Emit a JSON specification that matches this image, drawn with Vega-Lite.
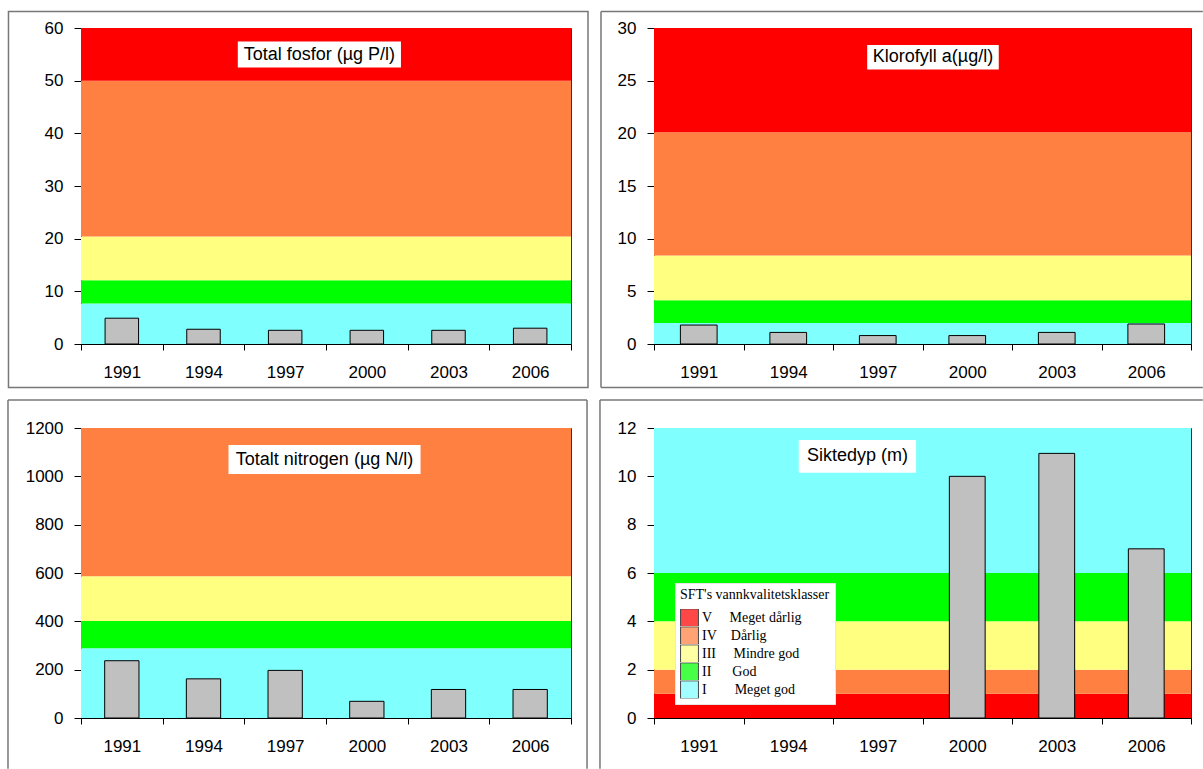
{
  "$schema": "https://vega.github.io/schema/vega-lite/v6.json",
  "padding": {"left": 6, "top": 10, "right": 0, "bottom": 0},
  "background": "white",
  "columns": 2,
  "bounds": "flush",
  "spacing": {"row": 84, "column": 83},
  "config": {
    "view": {"stroke": "#333", "strokeWidth": 1},
    "font": "Liberation Sans",
    "axis": {"title": null, "grid": false, "domainColor": "#000", "tickColor": "#000", "labelColor": "#000", "labelFont": "Liberation Sans", "labelFontSize": 17},
    "axisX": {"labelAngle": 0, "tickBand": "extent", "tickSize": 6, "labelPadding": 14},
    "axisY": {"tickSize": 7, "labelPadding": 11, "format": "d"}
  },
  "concat": [
    {
      "width": 490, "height": 316,
      "resolve": {"scale": {"x": "independent", "y": "independent"}},
      "layer": [
        {
          "layer": [
            {
              "data": {"values": [
                {"cls": "I", "lo": 0, "hi": 7.7},
                {"cls": "II", "lo": 7.7, "hi": 12.1},
                {"cls": "III", "lo": 12.1, "hi": 20.4},
                {"cls": "IV", "lo": 20.4, "hi": 50},
                {"cls": "V", "lo": 50, "hi": 60}
              ]},
              "mark": "rect",
              "encoding": {
                "y": {"field": "lo", "type": "quantitative", "scale": {"domain": [0, 60], "nice": false}, "axis": {"values": [0, 10, 20, 30, 40, 50, 60]}},
                "y2": {"field": "hi"},
                "color": {"field": "cls", "type": "nominal",
                  "scale": {"domain": ["V", "IV", "III", "II", "I"], "range": ["#FF0000", "#FF8040", "#FFFF80", "#00FF00", "#80FFFF"]},
                  "legend": {
                    "orient": "none", "legendX": 594, "legendY": 555,
                    "title": "SFT's vannkvalitetsklasser",
                    "titleFont": "Liberation Serif", "titleFontSize": 14, "titleFontWeight": "normal", "titleColor": "#000", "titlePadding": 7,
                    "labelFont": "Liberation Serif", "labelFontSize": 14, "labelColor": "#000", "labelOffset": 3,
                    "symbolType": "square", "symbolSize": 320, "symbolStrokeColor": "#000", "symbolStrokeWidth": 1, "symbolOpacity": 0.72,
                    "clipHeight": 17.6, "rowPadding": 0, "padding": 5, "fillColor": "white", "strokeColor": "#e6e6e6",
                    "labelExpr": "datum.label == 'V' ? '\u00a0\u00a0V\u00a0\u00a0\u00a0\u00a0\u00a0Meget dårlig' : datum.label == 'IV' ? 'IV\u00a0\u00a0\u00a0\u00a0Dårlig' : datum.label == 'III' ? 'III\u00a0\u00a0\u00a0\u00a0\u00a0Mindre god' : datum.label == 'II' ? 'II\u00a0\u00a0\u00a0\u00a0\u00a0\u00a0God' : 'I\u00a0\u00a0\u00a0\u00a0\u00a0\u00a0\u00a0\u00a0Meget god'"
                  }
                }
              }
            },
            {
              "data": {"values": [
                {"year": "1991", "v": 4.9},
                {"year": "1994", "v": 2.8},
                {"year": "1997", "v": 2.6},
                {"year": "2000", "v": 2.6},
                {"year": "2003", "v": 2.6},
                {"year": "2006", "v": 3.0}
              ]},
              "mark": {"type": "bar", "width": {"band": 0.41}, "fill": "#C0C0C0", "stroke": "#000", "strokeWidth": 1},
              "encoding": {
                "x": {"field": "year", "type": "nominal", "scale": {"domain": ["1991", "1994", "1997", "2000", "2003", "2006"], "paddingInner": 0, "paddingOuter": 0}},
                "y": {"field": "v", "type": "quantitative"}
              }
            }
          ]
        },
        {
          "data": {"values": [{}]},
          "layer": [
            {
              "mark": {"type": "rect", "fill": "white"},
              "encoding": {
                "x": {"datum": 0.32, "type": "quantitative", "scale": {"domain": [0, 1], "nice": false, "zero": false}, "axis": null},
                "x2": {"datum": 0.653},
                "y": {"datum": 0.957, "type": "quantitative", "scale": {"domain": [0, 1], "nice": false, "zero": false}, "axis": null},
                "y2": {"datum": 0.875}
              }
            },
            {
              "mark": {"type": "text", "text": "Total fosfor (µg P/l)", "fontSize": 18, "font": "Liberation Sans", "color": "#000", "align": "center", "baseline": "middle"},
              "encoding": {"x": {"datum": 0.4865, "type": "quantitative"}, "y": {"datum": 0.916, "type": "quantitative"}}
            },
            {
              "mark": {"type": "rect", "fillOpacity": 0, "stroke": "#777", "strokeWidth": 1.5},
              "encoding": {
                "x": {"datum": -0.148, "type": "quantitative"}, "x2": {"datum": 1.0347},
                "y": {"datum": 1.052, "type": "quantitative"}, "y2": {"datum": -0.1377}
              }
            }
          ]
        }
      ]
    },
    {
      "width": 537, "height": 316,
      "resolve": {"scale": {"x": "independent", "y": "independent"}},
      "layer": [
        {
          "layer": [
            {
              "data": {"values": [
                {"cls": "I", "lo": 0, "hi": 2.0},
                {"cls": "II", "lo": 2.0, "hi": 4.15},
                {"cls": "III", "lo": 4.15, "hi": 8.4},
                {"cls": "IV", "lo": 8.4, "hi": 20.1},
                {"cls": "V", "lo": 20.1, "hi": 30}
              ]},
              "mark": "rect",
              "encoding": {
                "y": {"field": "lo", "type": "quantitative", "scale": {"domain": [0, 30], "nice": false}, "axis": {"values": [0, 5, 10, 15, 20, 25, 30]}},
                "y2": {"field": "hi"},
                "color": {"field": "cls", "type": "nominal"}
              }
            },
            {
              "data": {"values": [
                {"year": "1991", "v": 1.8},
                {"year": "1994", "v": 1.1},
                {"year": "1997", "v": 0.8},
                {"year": "2000", "v": 0.8},
                {"year": "2003", "v": 1.1},
                {"year": "2006", "v": 1.9}
              ]},
              "mark": {"type": "bar", "width": {"band": 0.41}, "fill": "#C0C0C0", "stroke": "#000", "strokeWidth": 1},
              "encoding": {
                "x": {"field": "year", "type": "nominal", "scale": {"domain": ["1991", "1994", "1997", "2000", "2003", "2006"], "paddingInner": 0, "paddingOuter": 0}},
                "y": {"field": "v", "type": "quantitative"}
              }
            }
          ]
        },
        {
          "data": {"values": [{}]},
          "layer": [
            {
              "mark": {"type": "rect", "fill": "white"},
              "encoding": {
                "x": {"datum": 0.397, "type": "quantitative", "scale": {"domain": [0, 1], "nice": false, "zero": false}, "axis": null},
                "x2": {"datum": 0.642},
                "y": {"datum": 0.946, "type": "quantitative", "scale": {"domain": [0, 1], "nice": false, "zero": false}, "axis": null},
                "y2": {"datum": 0.869}
              }
            },
            {
              "mark": {"type": "text", "text": "Klorofyll a(µg/l)", "fontSize": 18, "font": "Liberation Sans", "color": "#000", "align": "center", "baseline": "middle"},
              "encoding": {"x": {"datum": 0.5195, "type": "quantitative"}, "y": {"datum": 0.907, "type": "quantitative"}}
            },
            {
              "mark": {"type": "rule", "stroke": "#777", "strokeWidth": 1.5},
              "encoding": {"x": {"datum": -0.0987, "type": "quantitative"}, "x2": {"datum": 1.022}, "y": {"datum": 1.052, "type": "quantitative"}}
            },
            {
              "mark": {"type": "rule", "stroke": "#777", "strokeWidth": 1.5},
              "encoding": {"x": {"datum": -0.0987, "type": "quantitative"}, "x2": {"datum": 1.022}, "y": {"datum": -0.1377, "type": "quantitative"}}
            },
            {
              "mark": {"type": "rule", "stroke": "#777", "strokeWidth": 1.5},
              "encoding": {"x": {"datum": -0.0987, "type": "quantitative"}, "y": {"datum": -0.1377, "type": "quantitative"}, "y2": {"datum": 1.052}}
            }
          ]
        }
      ]
    },
    {
      "width": 490, "height": 290,
      "resolve": {"scale": {"x": "independent", "y": "independent"}},
      "layer": [
        {
          "layer": [
            {
              "data": {"values": [
                {"cls": "I", "lo": 0, "hi": 289},
                {"cls": "II", "lo": 289, "hi": 401},
                {"cls": "III", "lo": 401, "hi": 587},
                {"cls": "IV", "lo": 587, "hi": 1200}
              ]},
              "mark": "rect",
              "encoding": {
                "y": {"field": "lo", "type": "quantitative", "scale": {"domain": [0, 1200], "nice": false}, "axis": {"values": [0, 200, 400, 600, 800, 1000, 1200]}},
                "y2": {"field": "hi"},
                "color": {"field": "cls", "type": "nominal"}
              }
            },
            {
              "data": {"values": [
                {"year": "1991", "v": 237},
                {"year": "1994", "v": 162},
                {"year": "1997", "v": 197},
                {"year": "2000", "v": 69},
                {"year": "2003", "v": 118},
                {"year": "2006", "v": 118}
              ]},
              "mark": {"type": "bar", "width": {"band": 0.42}, "fill": "#C0C0C0", "stroke": "#000", "strokeWidth": 1},
              "encoding": {
                "x": {"field": "year", "type": "nominal", "scale": {"domain": ["1991", "1994", "1997", "2000", "2003", "2006"], "paddingInner": 0, "paddingOuter": 0}},
                "y": {"field": "v", "type": "quantitative"}
              }
            }
          ]
        },
        {
          "data": {"values": [{}]},
          "layer": [
            {
              "mark": {"type": "rect", "fill": "white"},
              "encoding": {
                "x": {"datum": 0.301, "type": "quantitative", "scale": {"domain": [0, 1], "nice": false, "zero": false}, "axis": null},
                "x2": {"datum": 0.693},
                "y": {"datum": 0.941, "type": "quantitative", "scale": {"domain": [0, 1], "nice": false, "zero": false}, "axis": null},
                "y2": {"datum": 0.841}
              }
            },
            {
              "mark": {"type": "text", "text": "Totalt nitrogen (µg N/l)", "fontSize": 18, "font": "Liberation Sans", "color": "#000", "align": "center", "baseline": "middle"},
              "encoding": {"x": {"datum": 0.497, "type": "quantitative"}, "y": {"datum": 0.891, "type": "quantitative"}}
            },
            {
              "mark": {"type": "rule", "stroke": "#777", "strokeWidth": 1.5},
              "encoding": {"x": {"datum": -0.149, "type": "quantitative"}, "x2": {"datum": 1.0327}, "y": {"datum": 1.0966, "type": "quantitative"}}
            },
            {
              "mark": {"type": "rule", "stroke": "#777", "strokeWidth": 1.5},
              "encoding": {"x": {"datum": -0.149, "type": "quantitative"}, "y": {"datum": -0.175, "type": "quantitative"}, "y2": {"datum": 1.0966}}
            },
            {
              "mark": {"type": "rule", "stroke": "#777", "strokeWidth": 1.5},
              "encoding": {"x": {"datum": 1.0327, "type": "quantitative"}, "y": {"datum": -0.175, "type": "quantitative"}, "y2": {"datum": 1.0966}}
            }
          ]
        }
      ]
    },
    {
      "width": 537, "height": 290,
      "resolve": {"scale": {"x": "independent", "y": "independent"}},
      "layer": [
        {
          "layer": [
            {
              "data": {"values": [
                {"cls": "V", "lo": 0, "hi": 1},
                {"cls": "IV", "lo": 1, "hi": 2},
                {"cls": "III", "lo": 2, "hi": 4},
                {"cls": "II", "lo": 4, "hi": 6},
                {"cls": "I", "lo": 6, "hi": 12}
              ]},
              "mark": "rect",
              "encoding": {
                "y": {"field": "lo", "type": "quantitative", "scale": {"domain": [0, 12], "nice": false}, "axis": {"values": [0, 2, 4, 6, 8, 10, 12]}},
                "y2": {"field": "hi"},
                "color": {"field": "cls", "type": "nominal"}
              }
            },
            {
              "data": {"values": [
                {"year": "2000", "v": 10.0},
                {"year": "2003", "v": 10.95},
                {"year": "2006", "v": 7.0}
              ]},
              "mark": {"type": "bar", "width": {"band": 0.4}, "fill": "#C0C0C0", "stroke": "#000", "strokeWidth": 1},
              "encoding": {
                "x": {"field": "year", "type": "nominal", "scale": {"domain": ["1991", "1994", "1997", "2000", "2003", "2006"], "paddingInner": 0, "paddingOuter": 0}},
                "y": {"field": "v", "type": "quantitative"}
              }
            }
          ]
        },
        {
          "data": {"values": [{}]},
          "layer": [
            {
              "mark": {"type": "rect", "fill": "white"},
              "encoding": {
                "x": {"datum": 0.2696, "type": "quantitative", "scale": {"domain": [0, 1], "nice": false, "zero": false}, "axis": null},
                "x2": {"datum": 0.488},
                "y": {"datum": 0.9586, "type": "quantitative", "scale": {"domain": [0, 1], "nice": false, "zero": false}, "axis": null},
                "y2": {"datum": 0.846}
              }
            },
            {
              "mark": {"type": "text", "text": "Siktedyp (m)", "fontSize": 18, "font": "Liberation Sans", "color": "#000", "align": "center", "baseline": "middle"},
              "encoding": {"x": {"datum": 0.379, "type": "quantitative"}, "y": {"datum": 0.9034, "type": "quantitative"}}
            },
            {
              "mark": {"type": "rule", "stroke": "#777", "strokeWidth": 1.5},
              "encoding": {"x": {"datum": -0.1006, "type": "quantitative"}, "x2": {"datum": 1.022}, "y": {"datum": 1.0966, "type": "quantitative"}}
            },
            {
              "mark": {"type": "rule", "stroke": "#777", "strokeWidth": 1.5},
              "encoding": {"x": {"datum": -0.1006, "type": "quantitative"}, "y": {"datum": -0.175, "type": "quantitative"}, "y2": {"datum": 1.0966}}
            }
          ]
        }
      ]
    }
  ]
}
